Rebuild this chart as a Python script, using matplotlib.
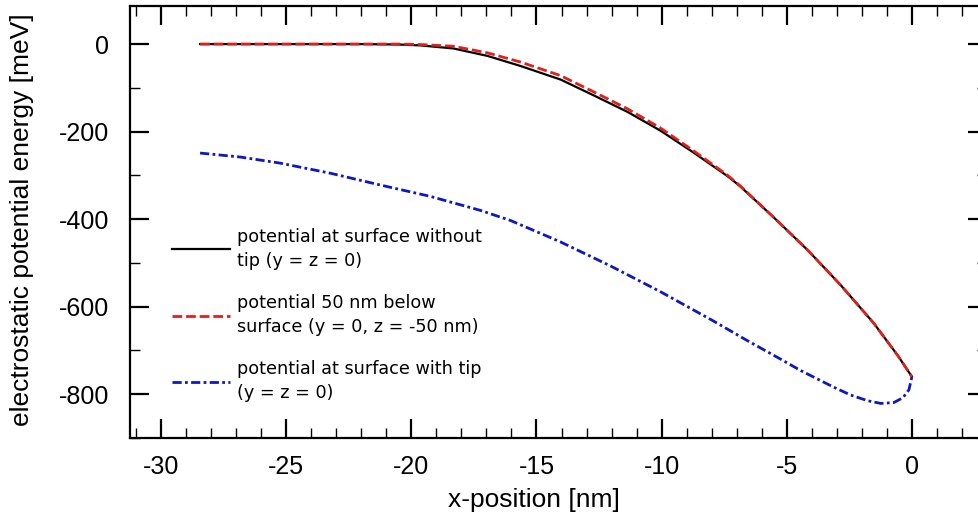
import matplotlib
matplotlib.use("Agg")
import matplotlib.pyplot as plt
from matplotlib.ticker import MultipleLocator

# --- data ---
x_black = [-28.44, -26.0, -24.0, -22.0, -20.5, -19.64, -18.32, -16.96, -15.64, -14.04,
           -12.72, -11.36, -10.04, -8.72, -7.36, -6.84, -5.52, -4.16, -2.84, -1.52, -0.56, 0.0]
y_black = [0, 0, 0, 0, -1, -3, -10, -27, -50, -81,
           -117, -155, -198, -248, -302, -326, -396, -471, -551, -638, -712, -760]

x_red = [-28.44, -26.0, -24.0, -22.0, -20.5, -19.64, -18.32, -16.96, -15.64, -14.04,
         -12.72, -11.36, -10.04, -8.72, -7.36, -6.84, -5.52, -4.16, -2.84, -1.52, -0.56, 0.0]
y_red = [0, 0, 0, 0, 0, -1, -5, -20, -41, -72,
         -109, -148, -192, -244, -300, -325, -396, -471, -551, -638, -712, -760]

x_blue = [-28.44, -26.84, -25.24, -23.24, -21.24, -19.24, -17.24, -16.04, -14.04, -12.04,
          -10.04, -7.92, -6.56, -5.24, -4.44, -3.12, -2.44, -1.76, -1.24, -0.72, -0.36, -0.12, 0.0]
y_blue = [-249, -258, -272, -295, -322, -348, -380, -403, -452, -507,
          -566, -633, -678, -720, -746, -784, -802, -815, -821, -819, -808, -790, -760]

labels = ["potential at surface without\ntip (y = z = 0)",
          "potential 50 nm below\nsurface (y = 0, z = -50 nm)",
          "potential at surface with tip\n(y = z = 0)"]

xticks = [-30, -25, -20, -15, -10, -5, 0]
yticks = [0, -200, -400, -600, -800]

W, H = 979, 526
fig = plt.figure(figsize=(W / 100, H / 100), dpi=100)
ax = fig.add_axes([130 / W, (H - 438) / H, (987 - 130) / W, (438 - 6) / H])

ax.plot(x_black, y_black, color="black", lw=1.6, label=labels[0])
ax.plot(x_red, y_red, color="#e0201b", lw=2.0, dashes=(3.5, 1.4), label=labels[1])
ax.plot(x_blue, y_blue, color="#0c18c4", lw=2.0, dashes=(3.3, 1.2, 1.0, 1.2), label=labels[2])

ax.set_xlim(-31.24, 3.0)
ax.set_ylim(-900, 87)

fam = ["Liberation Sans", "DejaVu Sans"]
ax.set_xticks(xticks)
ax.set_xticklabels([str(v) for v in xticks], family=fam, size=18)
ax.set_yticks(yticks)
ax.set_yticklabels([str(v) for v in yticks], family=fam, size=18)
ax.xaxis.set_minor_locator(MultipleLocator(1))
ax.yaxis.set_minor_locator(MultipleLocator(100))
ax.tick_params(which="both", direction="in", top=True, right=True)
ax.tick_params(which="major", length=14, width=1.6)
ax.tick_params(axis="x", which="major", pad=12)
ax.tick_params(axis="y", which="major", pad=15)
ax.tick_params(which="minor", length=7, width=1.0)
for s in ax.spines.values():
    s.set_linewidth(1.6)

ax.set_xlabel("x-position [nm]", family=fam, size=19)
ax.set_ylabel("electrostatic potential energy [meV]", family=fam, size=19)
ax.xaxis.set_label_coords((534 - 130) / 857, -(500 - 438) / 432, transform=ax.transAxes)
ax.xaxis.label.set_va("center")
ax.yaxis.set_label_coords(-(130 - 22) / 857, (438 - 220) / 432, transform=ax.transAxes)
ax.yaxis.label.set_va("center")

leg = ax.legend(loc="upper left", bbox_to_anchor=(0.030, 0.524), frameon=False,
                prop=dict(family="DejaVu Sans", size=12.7), handlelength=3.3,
                handletextpad=0.4, labelspacing=1.36)
for t in leg.get_texts():
    t.set_linespacing(1.45)

fig.savefig("out.png", dpi=100)
